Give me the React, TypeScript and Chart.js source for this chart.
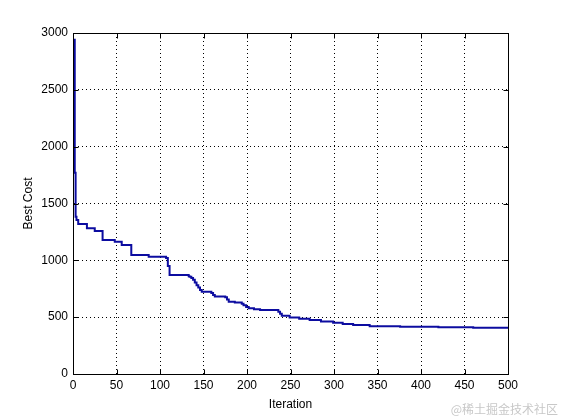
import React, { useEffect, useRef } from "react";
import { Chart, registerables } from "chart.js";

Chart.register(...registerables);

// ---- data ----
const iterations = [
  1, 2, 3, 4, 6, 16, 25, 34, 48, 56, 67, 87, 107, 109, 111, 133, 134, 136, 138, 140,
  142, 144, 146, 148, 159, 161, 163, 175, 177, 179, 186, 194, 196, 199, 202, 208,
  215, 236, 238, 240, 249, 260, 272, 285, 299, 310, 322, 341, 376, 420, 460, 500,
];
const bestCost = [
  2940, 1770, 1383, 1355, 1320, 1282, 1258, 1178, 1164, 1134, 1047, 1032, 1020, 950, 871, 860, 855, 845, 830, 805,
  780, 760, 740, 724, 712, 695, 682, 675, 655, 636, 628, 618, 605, 590, 578, 570,
  563, 548, 530, 512, 497, 487, 475, 462, 451, 440, 431, 421, 416, 412, 407, 405,
];
const xTicks = [0, 50, 100, 150, 200, 250, 300, 350, 400, 450, 500];
const yTicks = [0, 500, 1000, 1500, 2000, 2500, 3000];
const xLabel = "Iteration";
const yLabel = "Best Cost";
const watermark = "@稀土掘金技术社区";

const FONT = "'Liberation Sans', Arial, Helvetica, sans-serif";

const matlabBox = {
  id: "matlabBox",
  afterDraw(chart: any) {
    const { ctx, chartArea: a, scales } = chart;
    ctx.save();
    ctx.strokeStyle = "#000";
    ctx.lineWidth = 1;
    ctx.setLineDash([]);
    const l = Math.round(a.left) + 0.5;
    const r = Math.round(a.right) + 0.5;
    const t = Math.round(a.top) + 0.5;
    const b = Math.round(a.bottom) + 0.5;
    ctx.beginPath();
    ctx.rect(l, t, r - l, b - t);
    const L = 5;
    xTicks.forEach((v) => {
      const x = Math.round(scales.x.getPixelForValue(v)) + 0.5;
      ctx.moveTo(x, b);
      ctx.lineTo(x, b - L);
      ctx.moveTo(x, t);
      ctx.lineTo(x, t + L);
    });
    yTicks.forEach((v) => {
      const y = Math.round(scales.y.getPixelForValue(v)) + 0.5;
      ctx.moveTo(l, y);
      ctx.lineTo(l + L, y);
      ctx.moveTo(r, y);
      ctx.lineTo(r - L, y);
    });
    ctx.stroke();
    ctx.fillStyle = "#c8c8c8";
    ctx.font = "12px 'Noto Sans CJK SC', sans-serif";
    ctx.textAlign = "right";
    ctx.textBaseline = "alphabetic";
    ctx.fillText(watermark, 558, 414);
    ctx.restore();
  },
};

export default function App() {
  const ref = useRef<HTMLCanvasElement | null>(null);
  useEffect(() => {
    if (!ref.current) return;
    const chart = new Chart(ref.current, {
      type: "line",
      data: {
        datasets: [
          {
            data: iterations.map((x, i) => ({ x, y: bestCost[i] })),
            borderColor: "#0c0ca0",
            borderWidth: 2,
            pointRadius: 0,
            stepped: "before",
            fill: false,
          },
        ],
      },
      options: {
        animation: false,
        responsive: false,
        events: [],
        layout: { padding: { left: 0, top: 33, right: 53, bottom: 0 } },
        plugins: { legend: { display: false }, tooltip: { enabled: false } },
        scales: {
          x: {
            type: "linear",
            min: 0,
            max: 500,
            afterBuildTicks: (s: any) => {
              s.ticks = xTicks.map((v) => ({ value: v }));
            },
            afterFit: (s: any) => {
              s.height = 46;
            },
            ticks: {
              color: "#000",
              font: { family: FONT, size: 12 },
              padding: 4,
              maxRotation: 0,
              autoSkip: false,
              callback: (v: any) => String(v),
            },
            grid: { color: "#000", lineWidth: 1, drawTicks: false },
            border: { display: true, color: "#000", width: 1, dash: [1, 3] },
            title: {
              display: true,
              text: xLabel,
              color: "#000",
              font: { family: FONT, size: 12 },
              padding: { top: 0, bottom: 8 },
            },
          },
          y: {
            type: "linear",
            min: 0,
            max: 3000,
            afterBuildTicks: (s: any) => {
              s.ticks = yTicks.map((v) => ({ value: v }));
            },
            afterFit: (s: any) => {
              s.width = 73;
            },
            ticks: {
              color: "#000",
              font: { family: FONT, size: 12 },
              padding: 5,
              autoSkip: false,
              callback: (v: any) => String(v),
            },
            grid: { color: "#000", lineWidth: 1, drawTicks: false },
            border: { display: true, color: "#000", width: 1, dash: [1, 3] },
            title: {
              display: true,
              text: yLabel,
              color: "#000",
              font: { family: FONT, size: 12 },
              padding: { top: 21, bottom: 0 },
            },
          },
        },
      },
      plugins: [matlabBox],
    } as any);
    return () => chart.destroy();
  }, []);
  return (
    <div style={{ position: "fixed", left: 0, top: 0, width: 561, height: 420, background: "#fff" }}>
      <canvas ref={ref} width={561} height={420} />
    </div>
  );
}
